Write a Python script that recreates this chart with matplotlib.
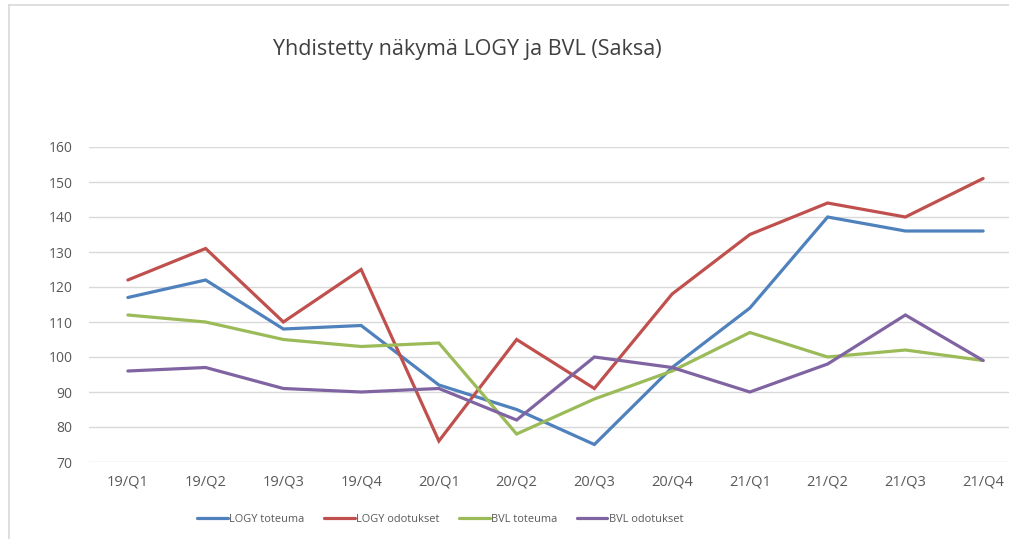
import matplotlib
matplotlib.use("Agg")
import matplotlib.pyplot as plt
from matplotlib.lines import Line2D

plt.rcParams['font.family'] = ['Open Sans', 'DejaVu Sans']

# data
quarters = ["19/Q1", "19/Q2", "19/Q3", "19/Q4", "20/Q1", "20/Q2",
            "20/Q3", "20/Q4", "21/Q1", "21/Q2", "21/Q3", "21/Q4"]
logy_toteuma = [117, 122, 108, 109, 92, 85, 75, 97, 114, 140, 136, 136]
logy_odotukset = [122, 131, 110, 125, 76, 105, 91, 118, 135, 144, 140, 151]
bvl_toteuma = [112, 110, 105, 103, 104, 78, 88, 96, 107, 100, 102, 99]
bvl_odotukset = [96, 97, 91, 90, 91, 82, 100, 97, 90, 98, 112, 99]
y_ticks = [70, 80, 90, 100, 110, 120, 130, 140, 150, 160]

series = [
    ("LOGY toteuma", logy_toteuma, "#4F81BD"),
    ("LOGY odotukset", logy_odotukset, "#C0504D"),
    ("BVL toteuma", bvl_toteuma, "#9BBB59"),
    ("BVL odotukset", bvl_odotukset, "#8064A2"),
]

W, H = 1009, 539
fig = plt.figure(figsize=(W / 100, H / 100), dpi=100)
fig.patch.set_facecolor("white")

# plot area (pixel coords from the reference)
left, right, top, bottom = 89, 1022, 147, 462
ax = fig.add_axes([left / W, 1 - bottom / H, (right - left) / W, (bottom - top) / H])

x = list(range(len(quarters)))
for name, vals, col in series:
    ax.plot(x, vals, color=col, lw=2.3, label=name, solid_joinstyle="miter",
            solid_capstyle="round", zorder=3)

ax.set_xlim(-0.5, len(quarters) - 0.5)
ax.set_ylim(70, 160)
ax.set_yticks(y_ticks)
ax.set_xticks(x)
ax.set_xticklabels(quarters)
ax.grid(axis="y", color="#D9D9D9", lw=1.0, zorder=0)
ax.tick_params(length=0, colors="#595959")
ax.tick_params(axis="x", pad=9, labelsize=10.5)
ax.tick_params(axis="y", pad=12, labelsize=10)
for s in ax.spines.values():
    s.set_visible(False)

# title
fig.text(467 / W, 1 - 50 / H, "Yhdistetty näkymä LOGY ja BVL (Saksa)",
         ha="center", va="center", fontsize=15.5, color="#404040")

# legend
fig.legend(loc="center", bbox_to_anchor=(440 / W, 1 - 519 / H), ncol=4,
           frameon=False, fontsize=7.9, handlelength=2.8, handletextpad=0.1,
           columnspacing=1.8, labelcolor="#595959")

# chart frame (left and top edges visible in the reference)
fig.add_artist(Line2D([9 / W, 9 / W], [0, 1 - 5 / H], transform=fig.transFigure,
                      color="#D9D9D9", lw=1.2))
fig.add_artist(Line2D([9 / W, 1], [1 - 5 / H, 1 - 5 / H], transform=fig.transFigure,
                      color="#D9D9D9", lw=1.2))

fig.savefig("out.png", dpi=100)
